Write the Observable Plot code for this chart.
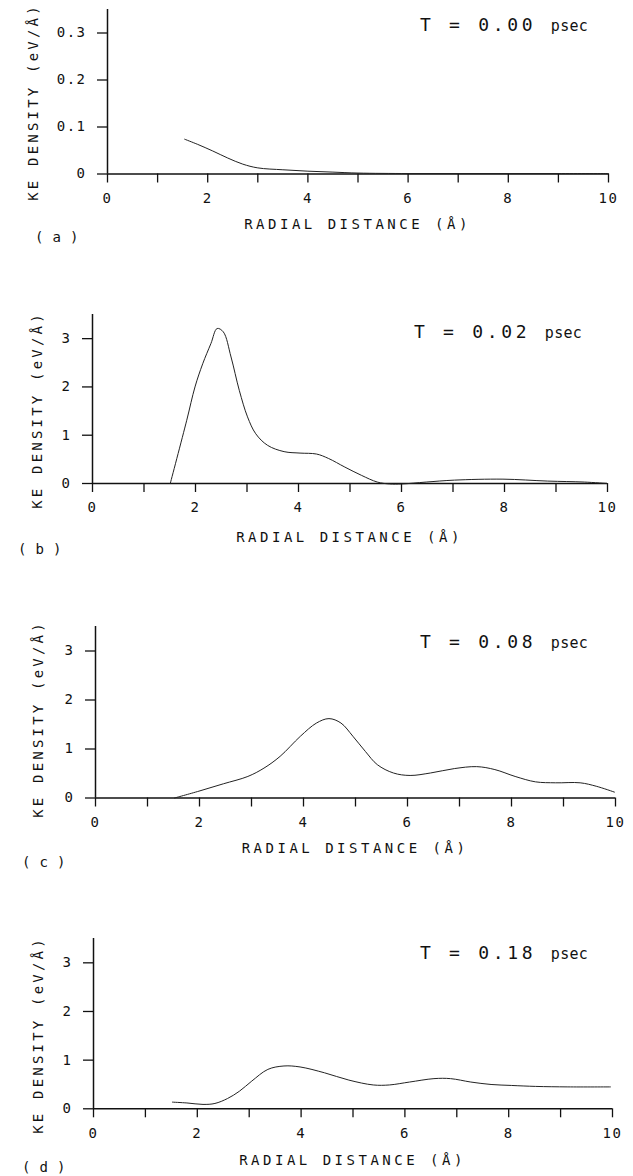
<!DOCTYPE html>
<html><head><meta charset="utf-8">
<script src="https://cdn.jsdelivr.net/npm/d3@7"></script>
<script src="https://cdn.jsdelivr.net/npm/@observablehq/plot@0.6"></script>
<style>
body{margin:0;background:#fff;}
#wrap{position:relative;width:633px;height:1176px;overflow:hidden;font-family:"DejaVu Sans Mono",monospace;color:#111;}
.abs{position:absolute;white-space:nowrap;}
.ylab{font-size:14px;letter-spacing:3.2px;transform:translate(-50%,-50%) rotate(-90deg);}
.xlab{font-size:14px;letter-spacing:3.5px;transform:translate(-50%,-50%);}
.tlab{font-size:18px;letter-spacing:3.7px;line-height:18px;}
.tlab .u{font-size:15px;letter-spacing:0.3px;}
.plab{font-size:14px;letter-spacing:0.3px;line-height:14px;transform:translateY(-50%);}
</style></head><body><div id="wrap"></div>
<script>
// ---- data ----
const xTicks = [0,1,2,3,4,5,6,7,8,9,10];
const yTicksA = [0, 0.1, 0.2, 0.3];
const yTicksBCD = [0, 1, 2, 3];
const times = ["0.00", "0.02", "0.08", "0.18"];
const letters = ["a", "b", "c", "d"];
const xLabel = "RADIAL DISTANCE (Å)";
const yLabel = "KE DENSITY (eV/Å)";

const xA = [1.54, 1.8, 2.1, 2.4, 2.7, 3.0, 3.5, 4.0, 4.5, 5.0, 6.0, 7.0, 8.0, 9.0, 10.0];
const yA = [0.074, 0.063, 0.049, 0.034, 0.021, 0.013, 0.009, 0.006, 0.004, 0.002, 0.001, 0.001, 0.001, 0.001, 0.001];

const xB = [1.51, 1.83, 1.99, 2.14, 2.30, 2.42, 2.54, 2.69, 2.85, 3.01, 3.17, 3.40, 3.72, 4.03, 4.35, 4.58, 4.90, 5.22, 5.53, 5.77, 6.0, 6.48, 7.03, 7.97, 8.84, 9.55, 10.0];
const yB = [0, 1.31, 2.0, 2.48, 2.9, 3.21, 3.14, 2.62, 1.93, 1.38, 1.03, 0.79, 0.66, 0.63, 0.61, 0.52, 0.34, 0.17, 0.03, -0.01, -0.01, 0.03, 0.07, 0.09, 0.05, 0.03, 0];

const xC = [1.52, 1.99, 2.46, 2.93, 3.24, 3.55, 3.94, 4.25, 4.49, 4.72, 4.95, 5.19, 5.42, 5.73, 6.05, 6.44, 6.9, 7.33, 7.68, 8.07, 8.46, 8.85, 9.32, 9.63, 9.98];
const yC = [0, 0.14, 0.29, 0.44, 0.61, 0.85, 1.26, 1.53, 1.62, 1.53, 1.26, 0.95, 0.68, 0.51, 0.46, 0.51, 0.6, 0.64, 0.58, 0.44, 0.33, 0.31, 0.31, 0.24, 0.12];

const xD = [1.52, 1.8, 2.11, 2.34, 2.58, 2.81, 3.05, 3.36, 3.67, 3.98, 4.45, 4.92, 5.39, 5.70, 6.09, 6.56, 6.88, 7.27, 7.66, 8.05, 8.52, 9.14, 9.96];
const yD = [0.137, 0.12, 0.09, 0.11, 0.21, 0.36, 0.57, 0.81, 0.88, 0.86, 0.74, 0.59, 0.49, 0.49, 0.55, 0.62, 0.62, 0.55, 0.50, 0.48, 0.46, 0.45, 0.45];

const series = [[xA, yA], [xB, yB], [xC, yC], [xD, yD]];
const yMaxes = [0.35, 3.5, 3.5, 3.5];
const yTickSets = [yTicksA, yTicksBCD, yTicksBCD, yTicksBCD];

// ---- layout (pixels) ----
const layout = [
  {left: 107, right: 608, base: 173,  top: 8.5,   ylabX: 33, ylabY: 102,  xlabY: 224,  letX: 35, letY: 237,  tX: 420, tY: 25},
  {left: 92,  right: 607, base: 483,  top: 314,   ylabX: 37, ylabY: 410,  xlabY: 537,  letX: 18, letY: 549,  tX: 414, tY: 332},
  {left: 95,  right: 615, base: 797,  top: 625.5, ylabX: 38, ylabY: 719,  xlabY: 848,  letX: 22, letY: 862,  tX: 420, tY: 642},
  {left: 93,  right: 612, base: 1108, top: 937.7, ylabX: 38, ylabY: 1035, xlabY: 1160, letX: 22, letY: 1167, tX: 420, tY: 953}
];

const wrap = document.getElementById("wrap");
const mt = 10, mb = 45;

function addDiv(cls, html, left, top) {
  const d = document.createElement("div");
  d.className = "abs " + cls;
  d.innerHTML = html;
  d.style.left = left + "px";
  d.style.top = top + "px";
  wrap.appendChild(d);
  return d;
}

series.forEach(([xs, ys], i) => {
  const L = layout[i];
  const data = xs.map((x, j) => ({x, y: ys[j]}));
  const fmt = i === 0 ? (d => d === 0 ? "0" : d3.format(".1f")(d)) : (d => String(d));
  const h = (L.base - L.top) + mt + mb;
  const chart = Plot.plot({
    width: 633,
    height: h,
    marginLeft: L.left,
    marginRight: 633 - L.right,
    marginTop: mt,
    marginBottom: mb,
    x: {domain: [0, 10]},
    y: {domain: [0, yMaxes[i]]},
    style: {fontFamily: "DejaVu Sans Mono, monospace", fontSize: "14px", letterSpacing: "1.5px", color: "#111", background: "transparent", overflow: "visible"},
    marks: [
      Plot.axisX({ticks: xTicks, tickSize: 9, tickPadding: 10, strokeWidth: 1.3,
        tickFormat: d => d % 2 === 0 ? String(d) : "", label: null, fontSize: 14}),
      Plot.axisY({ticks: yTickSets[i], tickSize: 10, tickPadding: 11, strokeWidth: 1.3,
        tickFormat: fmt, label: null, fontSize: 14}),
      Plot.ruleY([0], {stroke: "#111", strokeWidth: 1.5}),
      Plot.ruleX([0], {stroke: "#111", strokeWidth: 1.5}),
      Plot.line(data, {x: "x", y: "y", curve: "catmull-rom", stroke: "#222", strokeWidth: 1})
    ]
  });
  const holder = document.createElement("div");
  holder.style.position = "absolute";
  holder.style.left = "0px";
  holder.style.top = (L.top - mt) + "px";
  holder.appendChild(chart);
  wrap.appendChild(holder);

  addDiv("ylab", yLabel, L.ylabX, L.ylabY);
  addDiv("xlab", xLabel, (L.left + L.right) / 2, L.xlabY);
  addDiv("plab", "( " + letters[i] + " )", L.letX, L.letY);
  addDiv("tlab", "T = " + times[i] + " <span class='u'>psec</span>", L.tX, L.tY - 8.6);
});
</script>
</body></html>
